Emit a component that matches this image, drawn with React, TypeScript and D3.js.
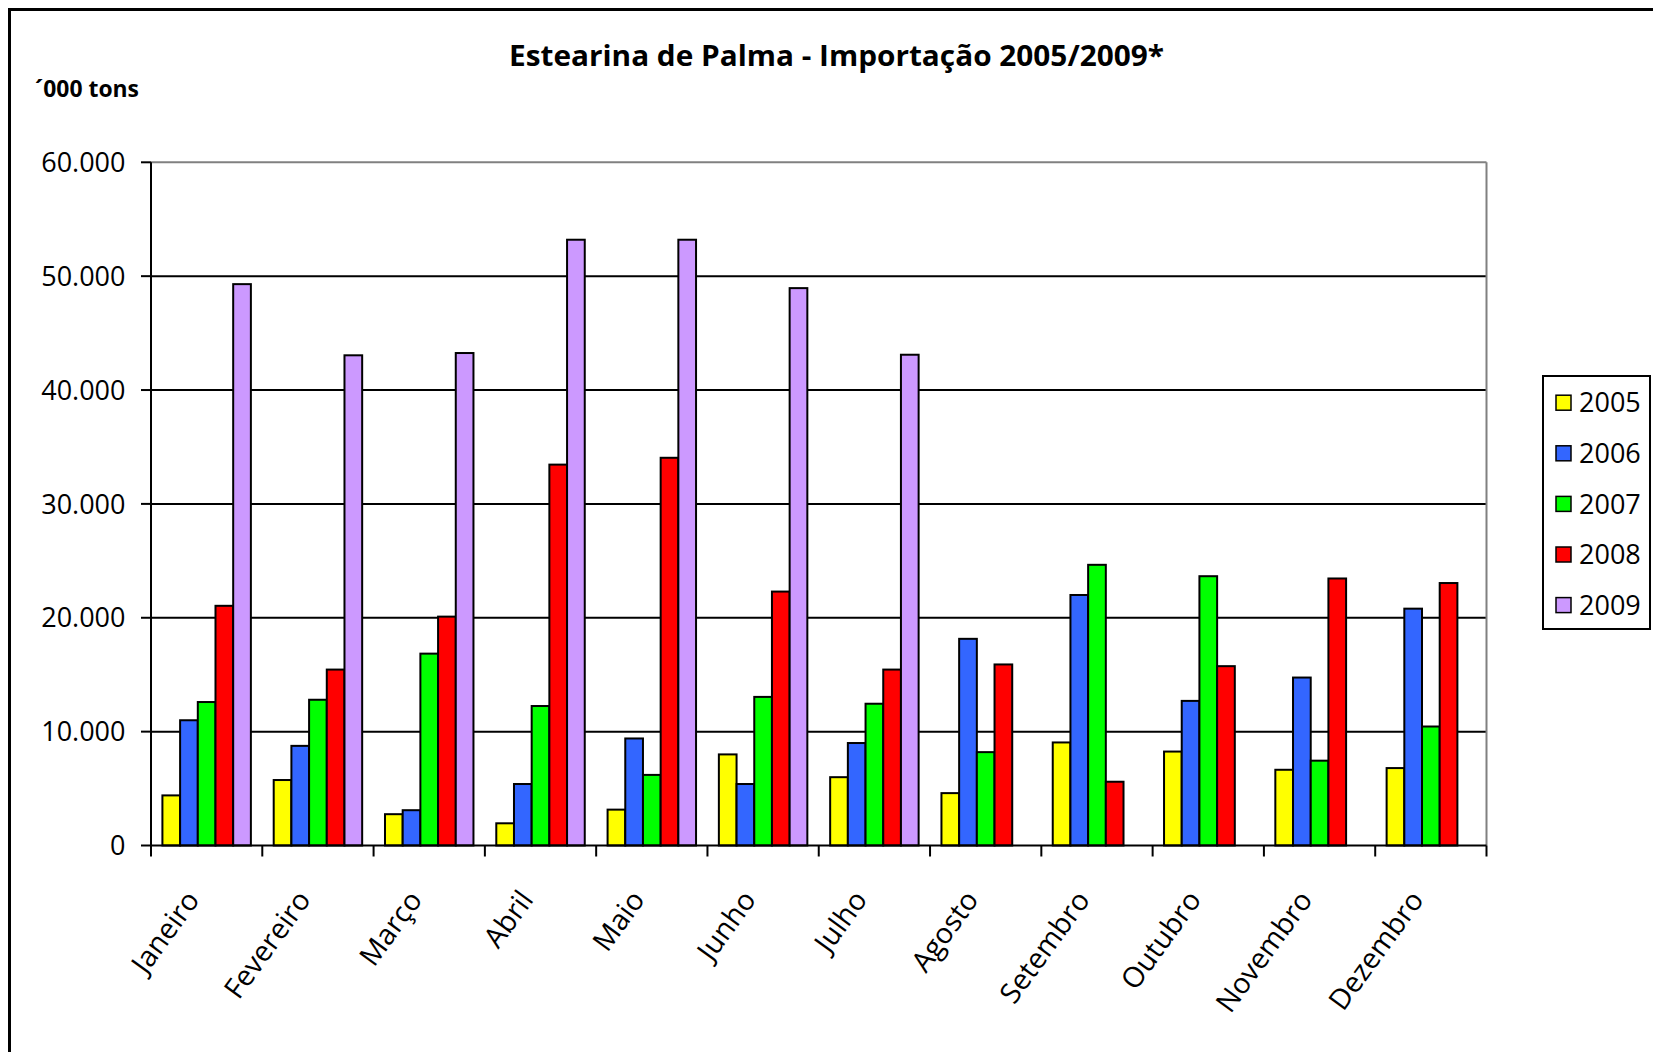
import React from "react";
import * as d3 from "d3";

const months = ["Janeiro", "Fevereiro", "Março", "Abril", "Maio", "Junho", "Julho", "Agosto", "Setembro", "Outubro", "Novembro", "Dezembro"];
const years = ["2005", "2006", "2007", "2008", "2009"];
const v2005 = [4400, 5750, 2750, 1950, 3150, 8000, 6000, 4600, 9050, 8250, 6650, 6800];
const v2006 = [11000, 8750, 3100, 5400, 9400, 5400, 9000, 18150, 22000, 12700, 14750, 20800];
const v2007 = [12600, 12800, 16850, 12250, 6200, 13050, 12450, 8200, 24650, 23650, 7450, 10450];
const v2008 = [21050, 15450, 20100, 33450, 34050, 22300, 15450, 15900, 5600, 15750, 23450, 23050];
const v2009 = [49300, 43050, 43250, 53200, 53200, 48950, 43100, null, null, null, null, null];
const seriesValues = [v2005, v2006, v2007, v2008, v2009];
const colors = ["#FFFF00", "#3366FF", "#00FF00", "#FF0000", "#CC99FF"];
const yTicks = [0, 10000, 20000, 30000, 40000, 50000, 60000];
const yTickLabels = ["0", "10.000", "20.000", "30.000", "40.000", "50.000", "60.000"];
const title = "Estearina de Palma - Importação 2005/2009*";
const unitLabel = "´000 tons";

const W = 1653, H = 1052;
const left = 151, right = 1486.5, top = 162.3, bottom = 845.5;
const font = "'Open Sans', sans-serif";
const angle = 54;

export default function App() {
  const x = d3.scaleBand<string>().domain(months).range([left, right]).padding(0);
  const xs = d3.scaleBand<string>().domain(years).range([0, x.bandwidth()]).paddingInner(0).paddingOuter(0.645);
  const y = d3.scaleLinear().domain([0, 60000]).range([bottom, top]);
  const boundaries = d3.range(months.length + 1).map((i) => left + i * x.step());

  return (
    <svg width={W} height={H} style={{ position: "absolute", left: 0, top: 0, background: "#fff" }}>
      <rect x={0} y={0} width={W} height={H} fill="#fff" />
      <rect x={9.5} y={9.5} width={W + 50} height={H + 50} fill="none" stroke="#000" strokeWidth={3} />
      <text x={836.5} y={66} textAnchor="middle" fontFamily={font} fontWeight="bold" fontSize={29} textLength={655} lengthAdjust="spacingAndGlyphs">{title}</text>
      <text x={35} y={97} fontFamily={font} fontWeight="bold" fontSize={23} textLength={104} lengthAdjust="spacingAndGlyphs">{unitLabel}</text>

      {yTicks.filter((t) => t > 0 && t < 60000).map((t) => (
        <line key={t} x1={left} x2={right} y1={y(t)} y2={y(t)} stroke="#000" strokeWidth={2} />
      ))}
      <line x1={left} x2={right} y1={y(60000)} y2={y(60000)} stroke="#808080" strokeWidth={2} />
      <line x1={right} x2={right} y1={y(60000)} y2={bottom} stroke="#808080" strokeWidth={2} />

      {seriesValues.map((vals, si) =>
        vals.map((v, mi) =>
          v == null ? null : (
            <rect
              key={`${si}-${mi}`}
              x={(x(months[mi]) as number) + (xs(years[si]) as number)}
              y={y(v)}
              width={xs.bandwidth()}
              height={bottom - y(v)}
              fill={colors[si]}
              stroke="#000"
              strokeWidth={2}
            />
          )
        )
      )}

      <line x1={left} x2={left} y1={top} y2={bottom} stroke="#000" strokeWidth={2} />
      {yTicks.map((t, i) => (
        <g key={t}>
          <line x1={left - 10} x2={left} y1={y(t)} y2={y(t)} stroke="#000" strokeWidth={2} />
          <text x={125.5} y={y(t)} dy="0.36em" textAnchor="end" fontFamily={font} fontSize={27}>{yTickLabels[i]}</text>
        </g>
      ))}

      <line x1={left} x2={right} y1={bottom} y2={bottom} stroke="#000" strokeWidth={2} />
      {boundaries.map((bx, i) => (
        <line key={i} x1={bx} x2={bx} y1={bottom} y2={bottom + 11} stroke="#000" strokeWidth={2} />
      ))}
      {months.map((m) => {
        const cx = (x(m) as number) + x.bandwidth() / 2;
        return (
          <text
            key={m}
            transform={`translate(${cx - 6},${900}) rotate(${-angle})`}
            textAnchor="end"
            fontFamily={font}
            fontSize={28.5}
          >
            {m}
          </text>
        );
      })}

      <rect x={1543} y={376} width={107} height={253} fill="#fff" stroke="#000" strokeWidth={2} />
      {years.map((yr, i) => {
        const cy = 402.7 + i * 50.6;
        return (
          <g key={yr}>
            <rect x={1556} y={cy - 7.5} width={15} height={15} fill={colors[i]} stroke="#000" strokeWidth={1.5} />
            <text x={1579} y={cy} dy="0.36em" fontFamily={font} fontSize={27}>{yr}</text>
          </g>
        );
      })}
    </svg>
  );
}
